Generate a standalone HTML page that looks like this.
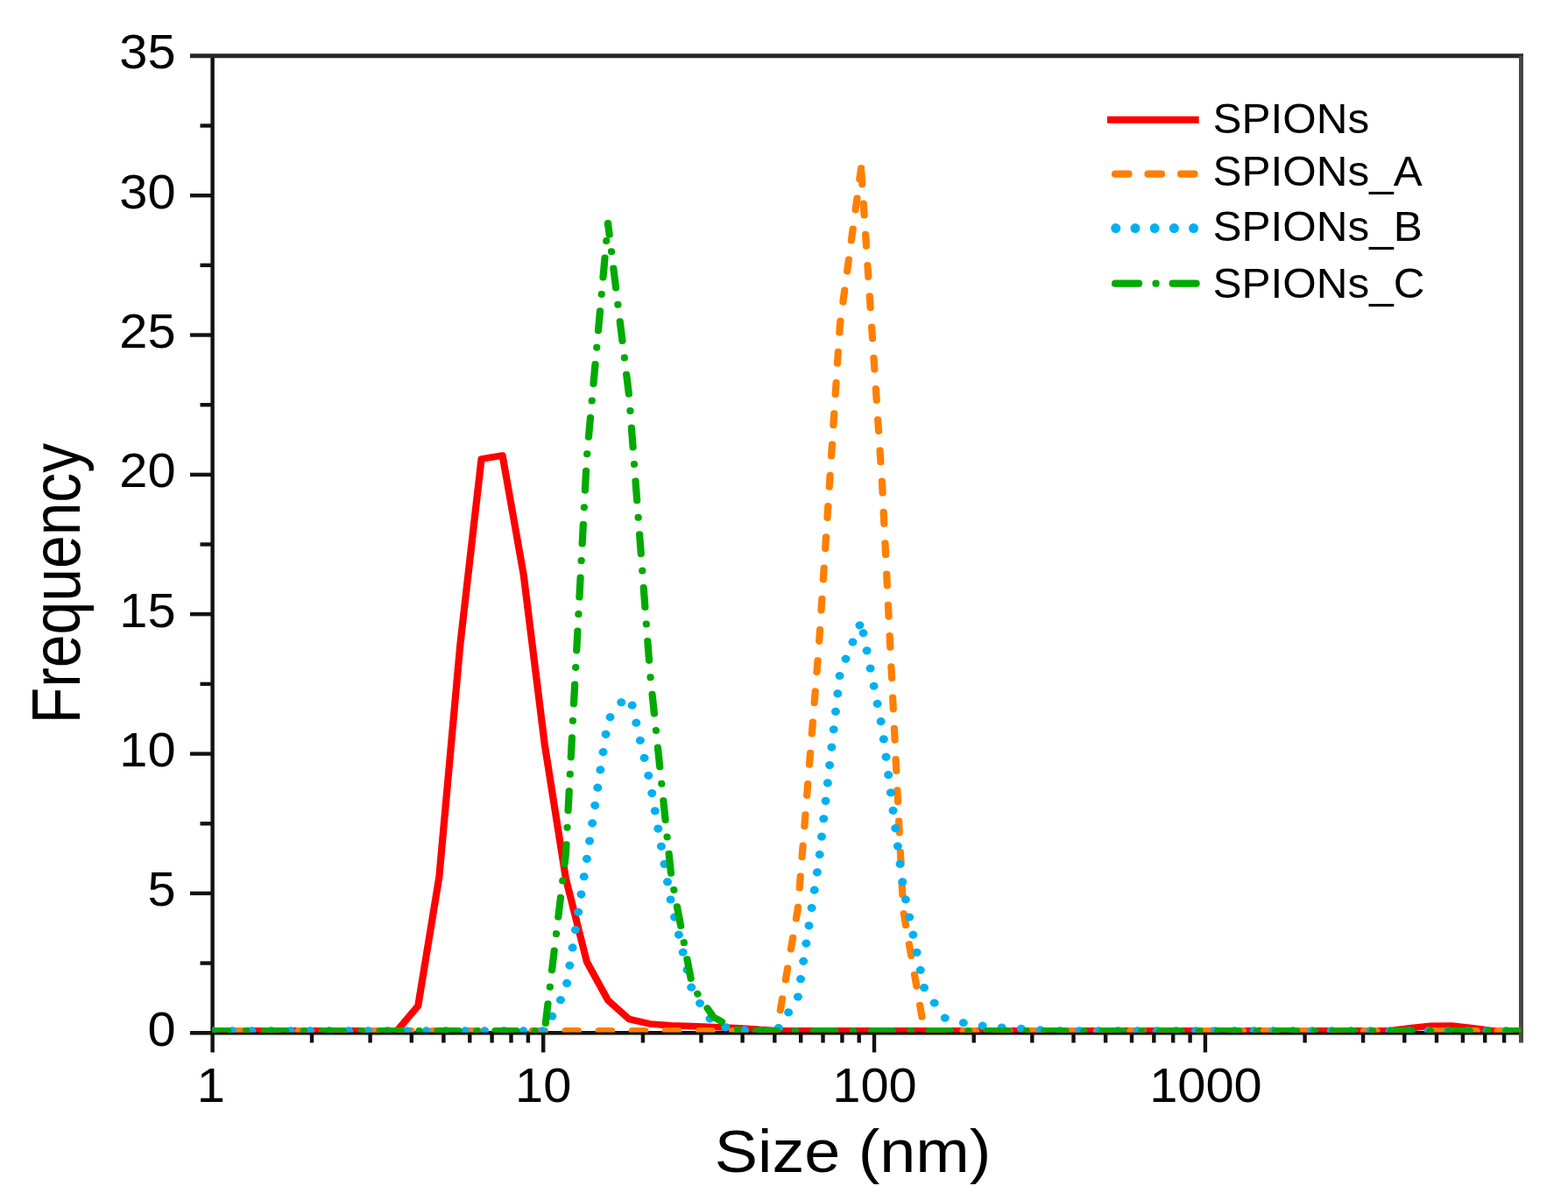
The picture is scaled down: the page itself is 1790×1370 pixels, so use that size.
<!DOCTYPE html><html><head><meta charset="utf-8"><style>html,body{margin:0;padding:0;background:#fff;overflow:hidden}svg{display:block}</style></head><body><div id="w">
<svg width="1790" height="1370" viewBox="0 0 1790 1370">
<rect width="1790" height="1370" fill="#fff"/>
<defs><clipPath id="c"><rect x="224.63" y="60" width="1383.24" height="1118.6"/></clipPath></defs>
<g stroke="#111" stroke-width="4.4" fill="none">
<path d="M242.6,63.8V1201.5 M217,1179.3H1736.5"/>
<path d="M217,63.8H1739.0" stroke="#262626" stroke-width="5"/>
<path d="M1736.5,63.8V1190.5" stroke="#484848" stroke-width="5"/>
<path d="M217,1019.9H242.6"/>
<path d="M217,860.6H242.6"/>
<path d="M217,701.2H242.6"/>
<path d="M217,541.9H242.6"/>
<path d="M217,382.5H242.6"/>
<path d="M217,223.2H242.6"/>
<path d="M228.5,1099.6H242.6"/>
<path d="M228.5,940.3H242.6"/>
<path d="M228.5,780.9H242.6"/>
<path d="M228.5,621.5H242.6"/>
<path d="M228.5,462.2H242.6"/>
<path d="M228.5,302.8H242.6"/>
<path d="M228.5,143.5H242.6"/>
<path d="M356.0,1179.3V1190.5"/>
<path d="M422.6,1179.3V1190.5"/>
<path d="M469.8,1179.3V1190.5"/>
<path d="M506.4,1179.3V1190.5"/>
<path d="M536.3,1179.3V1190.5"/>
<path d="M561.6,1179.3V1190.5"/>
<path d="M583.5,1179.3V1190.5"/>
<path d="M602.9,1179.3V1190.5"/>
<path d="M620.2,1179.3V1201.5"/>
<path d="M733.9,1179.3V1190.5"/>
<path d="M800.4,1179.3V1190.5"/>
<path d="M847.6,1179.3V1190.5"/>
<path d="M884.3,1179.3V1190.5"/>
<path d="M914.2,1179.3V1190.5"/>
<path d="M939.5,1179.3V1190.5"/>
<path d="M961.4,1179.3V1190.5"/>
<path d="M980.7,1179.3V1190.5"/>
<path d="M998.0,1179.3V1201.5"/>
<path d="M1111.7,1179.3V1190.5"/>
<path d="M1178.3,1179.3V1190.5"/>
<path d="M1225.5,1179.3V1190.5"/>
<path d="M1262.1,1179.3V1190.5"/>
<path d="M1292.0,1179.3V1190.5"/>
<path d="M1317.3,1179.3V1190.5"/>
<path d="M1339.2,1179.3V1190.5"/>
<path d="M1358.6,1179.3V1190.5"/>
<path d="M1375.9,1179.3V1201.5"/>
<path d="M1489.6,1179.3V1190.5"/>
<path d="M1556.1,1179.3V1190.5"/>
<path d="M1603.3,1179.3V1190.5"/>
<path d="M1640.0,1179.3V1190.5"/>
<path d="M1669.9,1179.3V1190.5"/>
<path d="M1695.2,1179.3V1190.5"/>
<path d="M1717.1,1179.3V1190.5"/>
</g>
<g transform="scale(1.08,1)" clip-path="url(#c)" fill="none" stroke-linejoin="round" stroke-linecap="round">
<polyline points="85.13,1176.9 107.42,1176.9 129.74,1176.9 152.04,1176.9 174.33,1176.9 196.63,1176.9 218.92,1176.9 241.16,1176.9 263.51,1176.9 285.86,1176.9 308.16,1176.9 330.43,1176.9 352.74,1176.9 375.04,1176.9 397.33,1176.9 419.61,1176.9 441.93,1148.3 464.23,1001.0 486.52,735.0 508.83,524.0 531.13,520.0 553.42,656.0 575.72,850.0 598.07,1003.0 620.26,1098.0 642.65,1142.0 664.95,1163.5 687.23,1169.0 709.50,1170.8 731.79,1171.6 754.09,1172.5 776.42,1173.5 798.71,1175.0 821.02,1176.9 843.31,1176.9 865.61,1176.9 887.91,1176.9 910.21,1176.9 932.50,1176.9 954.79,1176.9 977.14,1176.9 999.42,1176.9 1021.68,1176.9 1044.01,1176.9 1066.31,1176.9 1088.60,1176.9 1110.91,1176.9 1133.22,1176.9 1155.52,1176.9 1177.81,1176.9 1200.10,1176.9 1222.41,1176.9 1244.71,1176.9 1267.00,1176.9 1289.24,1176.9 1311.56,1176.9 1333.91,1176.9 1356.16,1176.9 1378.49,1176.9 1400.82,1176.9 1423.10,1176.9 1445.40,1176.9 1467.72,1176.9 1489.98,1173.8 1512.31,1171.2 1534.61,1171.0 1556.91,1173.8 1579.19,1176.9 1601.50,1176.9 1623.80,1176.9" stroke="#ff0000" stroke-width="7.6" stroke-linecap="butt"/>
<polyline points="85.13,1176.9 107.42,1176.9 129.74,1176.9 152.04,1176.9 174.33,1176.9 196.63,1176.9 218.92,1176.9 241.16,1176.9 263.51,1176.9 285.86,1176.9 308.16,1176.9 330.43,1176.9 352.74,1176.9 375.04,1176.9 397.33,1176.9 419.61,1176.9 441.93,1176.9 464.23,1176.9 486.52,1176.9 508.83,1176.9 531.13,1176.9 553.42,1176.9 575.72,1176.9 598.07,1176.9 620.26,1176.9 642.65,1176.9 664.95,1176.9 687.23,1176.9 709.50,1176.9 731.79,1176.9 754.09,1176.9 776.42,1176.9 798.71,1176.9 821.02,1176.9 843.31,1038.0 865.61,737.0 887.91,370.0 910.21,192.0" stroke="#ff7f00" stroke-width="7.6" stroke-dasharray="13.4 21.9" stroke-dashoffset="16.92"/>
<polyline points="910.21,192.0 932.50,553.0 954.79,1040.0 977.14,1176.9 999.42,1176.9 1021.68,1176.9 1044.01,1176.9 1066.31,1176.9 1088.60,1176.9 1110.91,1176.9 1133.22,1176.9 1155.52,1176.9 1177.81,1176.9 1200.10,1176.9 1222.41,1176.9 1244.71,1176.9 1267.00,1176.9 1289.24,1176.9 1311.56,1176.9 1333.91,1176.9 1356.16,1176.9 1378.49,1176.9 1400.82,1176.9 1423.10,1176.9 1445.40,1176.9 1467.72,1176.9 1489.98,1176.9 1512.31,1176.9 1534.61,1176.9 1556.91,1176.9 1579.19,1176.9 1601.50,1176.9 1623.80,1176.9" stroke="#ff7f00" stroke-width="7.6" stroke-dasharray="13.4 21.9" stroke-dashoffset="30.21"/>
<polyline points="85.13,1176.9 107.42,1176.9 129.74,1176.9 152.04,1176.9 174.33,1176.9 196.63,1176.9 218.92,1176.9 241.16,1176.9 263.51,1176.9 285.86,1176.9 308.16,1176.9 330.43,1176.9 352.74,1176.9 375.04,1176.9 397.33,1176.9 419.61,1176.9 441.93,1176.9 464.23,1176.9 486.52,1176.9 508.83,1176.9 531.13,1176.9 553.42,1176.9 575.72,1176.9 598.07,1130.0 620.26,981.0 642.65,822.0 664.95,790.0" stroke="#00b0f0" stroke-width="9.2" stroke-dasharray="0.01 20.5" stroke-dashoffset="3.62"/>
<polyline points="664.95,790.0 687.23,894.0 709.50,1031.0 731.79,1132.0 754.09,1169.0 776.42,1175.5 798.71,1176.9" stroke="#00b0f0" stroke-width="9.2" stroke-dasharray="0.01 20.5" stroke-dashoffset="5.01"/>
<polyline points="798.71,1176.9 821.02,1176.9 843.31,1139.0 865.61,983.0 887.91,768.0 910.21,710.0" stroke="#00b0f0" stroke-width="9.2" stroke-dasharray="0.01 20.5" stroke-dashoffset="14.76"/>
<polyline points="910.21,710.0 932.50,831.0 954.79,1014.0 977.14,1129.0 999.42,1163.0 1021.68,1168.5 1044.01,1172.0 1066.31,1173.5 1088.60,1175.0 1110.91,1176.9 1133.22,1176.9 1155.52,1176.9 1177.81,1176.9 1200.10,1176.9 1222.41,1176.9 1244.71,1176.9 1267.00,1176.9 1289.24,1176.9 1311.56,1176.9 1333.91,1176.9 1356.16,1176.9 1378.49,1176.9 1400.82,1176.9 1423.10,1176.9 1445.40,1176.9 1467.72,1176.9 1489.98,1176.9 1512.31,1176.9 1534.61,1176.9 1556.91,1176.9 1579.19,1176.9 1601.50,1176.9 1623.80,1176.9" stroke="#00b0f0" stroke-width="9.2" stroke-dasharray="0.01 20.5" stroke-dashoffset="7.57"/>
<polyline points="85.13,1176.9 107.42,1176.9 129.74,1176.9 152.04,1176.9 174.33,1176.9 196.63,1176.9 218.92,1176.9 241.16,1176.9 263.51,1176.9 285.86,1176.9 308.16,1176.9 330.43,1176.9 352.74,1176.9 375.04,1176.9 397.33,1176.9 419.61,1176.9 441.93,1176.9 464.23,1176.9 486.52,1176.9 508.83,1176.9 531.13,1176.9 553.42,1176.9 575.72,1176.9 598.07,975.0 620.26,522.0 642.65,255.0" stroke="#00aa00" stroke-width="7.6" stroke-dasharray="22.4 19.1 0.4 19.1" stroke-dashoffset="49.67"/>
<polyline points="642.65,255.0 664.95,452.0 687.23,770.0 709.50,1000.0 731.79,1126.0 754.09,1161.0 776.42,1175.0 798.71,1176.9 821.02,1176.9 843.31,1176.9 865.61,1176.9 887.91,1176.9 910.21,1176.9 932.50,1176.9 954.79,1176.9 977.14,1176.9 999.42,1176.9 1021.68,1176.9 1044.01,1176.9 1066.31,1176.9 1088.60,1176.9 1110.91,1176.9 1133.22,1176.9 1155.52,1176.9 1177.81,1176.9 1200.10,1176.9 1222.41,1176.9 1244.71,1176.9 1267.00,1176.9 1289.24,1176.9 1311.56,1176.9 1333.91,1176.9 1356.16,1176.9 1378.49,1176.9 1400.82,1176.9 1423.10,1176.9 1445.40,1176.9 1467.72,1176.9 1489.98,1176.9 1512.31,1176.9 1534.61,1176.9 1556.91,1176.9 1579.19,1176.9 1601.50,1176.9 1623.80,1176.9" stroke="#00aa00" stroke-width="7.6" stroke-dasharray="22.4 19.1 0.4 19.1" stroke-dashoffset="9.33"/>
</g>
<text x="191.05" y="1193.8" transform="scale(1.05,1)" text-anchor="end" font-size="55" font-family="'Liberation Sans', Arial, sans-serif">0</text>
<text x="191.05" y="1034.4" transform="scale(1.05,1)" text-anchor="end" font-size="55" font-family="'Liberation Sans', Arial, sans-serif">5</text>
<text x="191.05" y="875.1" transform="scale(1.05,1)" text-anchor="end" font-size="55" font-family="'Liberation Sans', Arial, sans-serif">10</text>
<text x="191.05" y="715.7" transform="scale(1.05,1)" text-anchor="end" font-size="55" font-family="'Liberation Sans', Arial, sans-serif">15</text>
<text x="191.05" y="556.4" transform="scale(1.05,1)" text-anchor="end" font-size="55" font-family="'Liberation Sans', Arial, sans-serif">20</text>
<text x="191.05" y="397.0" transform="scale(1.05,1)" text-anchor="end" font-size="55" font-family="'Liberation Sans', Arial, sans-serif">25</text>
<text x="191.05" y="237.6" transform="scale(1.05,1)" text-anchor="end" font-size="55" font-family="'Liberation Sans', Arial, sans-serif">30</text>
<text x="191.05" y="78.3" transform="scale(1.05,1)" text-anchor="end" font-size="55" font-family="'Liberation Sans', Arial, sans-serif">35</text>
<text x="229.33" y="1257.8" transform="scale(1.05,1)" text-anchor="middle" font-size="55" font-family="'Liberation Sans', Arial, sans-serif">1</text>
<text x="590.62" y="1257.8" transform="scale(1.05,1)" text-anchor="middle" font-size="55" font-family="'Liberation Sans', Arial, sans-serif">10</text>
<text x="950.95" y="1257.8" transform="scale(1.05,1)" text-anchor="middle" font-size="55" font-family="'Liberation Sans', Arial, sans-serif">100</text>
<text x="1310.90" y="1257.8" transform="scale(1.05,1)" text-anchor="middle" font-size="55" font-family="'Liberation Sans', Arial, sans-serif">1000</text>
<text x="903.99" y="1337.6" transform="scale(1.077,1)" text-anchor="middle" font-size="68.5" font-family="'Liberation Sans', Arial, sans-serif">Size (nm)</text>
<text transform="translate(91.2,666) scale(1.135,1) rotate(-90)" x="0" y="0" text-anchor="middle" font-size="67.8" font-family="'Liberation Sans', Arial, sans-serif">Frequency</text>
<text x="1344.27" y="151.8" transform="scale(1.03,1)" font-size="48" font-family="'Liberation Sans', Arial, sans-serif">SPIONs</text>
<text x="1344.27" y="212.5" transform="scale(1.03,1)" font-size="48" font-family="'Liberation Sans', Arial, sans-serif">SPIONs_A</text>
<text x="1344.27" y="275.4" transform="scale(1.03,1)" font-size="48" font-family="'Liberation Sans', Arial, sans-serif">SPIONs_B</text>
<text x="1344.27" y="340.2" transform="scale(1.03,1)" font-size="48" font-family="'Liberation Sans', Arial, sans-serif">SPIONs_C</text>
<g fill="none" stroke-linecap="round">
<path d="M1264,136.8H1368.7" stroke="#ff0000" stroke-width="8" stroke-linecap="butt"/>
<path d="M1273,198.7H1364" stroke="#ff7f00" stroke-width="8.2" stroke-dasharray="15.5 22"/>
<path d="M1273.7,260.6H1363" stroke="#00b0f0" stroke-width="11" stroke-dasharray="0.1 22.1"/>
<path d="M1273,323.7H1366" stroke="#00aa00" stroke-width="8.2" stroke-dasharray="27 19.5 0.1 19"/>
</g>
</svg>
</div></body></html>
